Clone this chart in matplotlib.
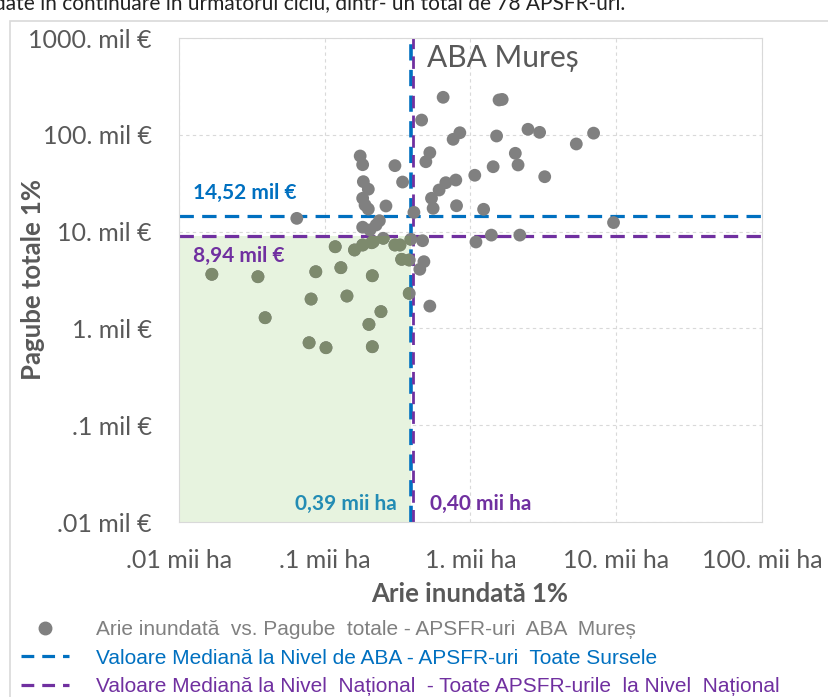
import matplotlib
matplotlib.use("Agg")
import matplotlib.pyplot as plt
from matplotlib.patches import Rectangle
from matplotlib.lines import Line2D

# Arie inundata 1% (mii ha) si Pagube totale 1% (mil €) - APSFR-uri ABA Mures
arie = [0.649, 1.57, 1.65, 0.462, 0.845, 0.760, 1.51, 2.48, 2.98, 6.99,
        5.32, 0.526, 0.494, 2.03, 2.12, 1.43, 1.07, 3.23, 0.793, 0.677,
        0.609, 0.342, 0.540, 0.554, 0.802, 1.23, 0.409, 9.58, 1.39, 2.18,
        1.09, 0.469, 0.390, 0.479, 0.449, 0.526, 0.380, 0.380,
        0.175, 0.182, 0.303, 0.184, 0.199, 0.182, 0.189, 0.199, 0.263, 0.0643,
        0.237, 0.225, 0.182, 0.204, 0.252, 0.215, 0.118, 0.160, 0.182, 0.210,
        0.303, 0.328, 0.337, 0.0168, 0.0348, 0.0868, 0.129, 0.212, 0.0806, 0.142,
        0.0390, 0.243, 0.201, 0.0781, 0.102, 0.212]
pagube = [244, 229, 232, 142, 105, 89.8, 97.2, 114, 106, 104,
          80.4, 65.3, 52.7, 64.4, 48.8, 46.8, 38.2, 36.9, 34.1, 32.0,
          26.9, 32.5, 22.1, 17.4, 18.5, 17.0, 15.8, 12.4, 9.2, 9.2,
          7.81, 8.05, 8.32, 4.89, 4.08, 1.70, 5.09, 2.30,
          60.4, 49.1, 48.0, 32.8, 27.4, 22.1, 18.8, 17.1, 18.4, 13.7,
          12.96, 11.7, 11.1, 10.4, 8.53, 7.87, 6.98, 6.46, 7.27, 7.68,
          7.27, 7.27, 5.17, 3.62, 3.42, 3.85, 4.24, 3.50, 2.01, 2.16,
          1.29, 1.49, 1.10, 0.711, 0.632, 0.647]

median_aba_x = 0.39
median_nat_x = 0.40
median_aba_y = 14.52
median_nat_y = 8.94

xticks = [0.01, 0.1, 1, 10, 100]
xticklabels = [".01 mii ha", ".1 mii ha", "1. mii ha", "10. mii ha", "100. mii ha"]
yticks = [0.01, 0.1, 1, 10, 100, 1000]
yticklabels = [".01 mil €", ".1 mil €", "1. mil €", "10. mil €", "100. mil €", "1000. mil €"]

BLUE = "#0070C0"
PURPLE = "#7030A0"
GREY = "#808080"
TXT = "#595959"

plt.rcParams["font.family"] = ["Lato", "DejaVu Sans"]

fig = plt.figure(figsize=(8.29, 6.97), dpi=100)
ax = fig.add_axes([179 / 829, 1 - 522 / 697, 583 / 829, 484 / 697])
ax.set_xscale("log")
ax.set_yscale("log")
ax.set_xlim(0.01, 100)
ax.set_ylim(0.01, 1000)

# outer chart border and the cropped caption line above it
fig.patches.append(Rectangle((10 / 829, -0.1), 1.2, 1.1 - 21 / 697, transform=fig.transFigure,
                             fill=False, edgecolor="#d9d9d9", lw=1.2))
fig.text(625 / 829, 1 - 9 / 697, "validate în continuare în următorul ciclu, dintr- un total de 78 APSFR-uri.",
         ha="right", va="baseline", fontsize=15, color="#222222")

# green zone below both medians
green = Rectangle((0.01, 0.01), median_aba_x - 0.01, median_nat_y - 0.01,
                  facecolor="#e7f3df", edgecolor="none", zorder=1)
ax.add_patch(green)

dash = (0, (4.5, 2.6))
ax.axhline(median_aba_y, color=BLUE, lw=2.3, ls=dash, zorder=2)
ax.axhline(median_nat_y, color=PURPLE, lw=2.3, ls=dash, zorder=2)
ax.axvline(median_aba_x, color=BLUE, lw=2.6, ls=dash, zorder=2)
ax.axvline(median_nat_x, color=PURPLE, lw=2.0, ls=dash, zorder=2)

ax.scatter(arie, pagube, s=85, color=GREY, edgecolors="none", zorder=3)
tinted = ax.scatter(arie, pagube, s=85, color="#7d8a6d", edgecolors="none", zorder=4)
tinted.set_clip_path(green)

ax.text(0.0125, 25, "14,52 mil €", color=BLUE, fontsize=15, fontweight="bold", va="center")
ax.text(0.0125, 5.6, "8,94 mil €", color=PURPLE, fontsize=15, fontweight="bold", va="center")
ax.text(0.313, 0.0153, "0,39 mii ha", color="#238cb4", fontsize=15, fontweight="bold",
        va="center", ha="right")
ax.text(0.526, 0.0153, "0,40 mii ha", color=PURPLE, fontsize=15, fontweight="bold", va="center")
ax.text(0.50, 621, "ABA Mureș", color="#595959", fontsize=21.5, va="center")

ax.set_xticks(xticks)
ax.set_xticklabels(xticklabels)
ax.set_yticks(yticks)
ax.set_yticklabels(yticklabels)
ax.minorticks_off()
ax.tick_params(length=0, labelsize=18, labelcolor=TXT)
ax.tick_params(axis="x", pad=19.5)
ax.tick_params(axis="y", pad=19.5)
ax.grid(True, color="#d9d9d9", ls=(0, (3, 3)), lw=0.8)
ax.set_axisbelow(True)
for s in ax.spines.values():
    s.set_color("#d9d9d9")

ax.set_xlabel("Arie inundată 1%", fontsize=18.5, fontweight="bold", color=TXT)
ax.xaxis.set_label_coords((470 - 179) / 583, -(594 - 522) / 484)
ax.xaxis.label.set_va("center")
ax.set_ylabel("Pagube totale 1%", fontsize=18.5, fontweight="bold", color=TXT)
ax.yaxis.set_label_coords((33 - 179) / 583, (522 - 280) / 484)
ax.yaxis.label.set_va("center")

handles = [
    Line2D([], [], ls="none", marker="o", color=GREY, markersize=9),
    Line2D([], [], color=BLUE, lw=2.3, ls=(0, (4, 2.5))),
    Line2D([], [], color=PURPLE, lw=2.3, ls=(0, (4, 2.5))),
]
labels = [
    "Arie inundată  vs. Pagube  totale - APSFR-uri  ABA  Mureș",
    "Valoare Mediană la Nivel de ABA - APSFR-uri  Toate Sursele",
    "Valoare Mediană la Nivel  Național  - Toate APSFR-urile  la Nivel  Național",
]
fig.legend(handles, labels, loc="upper left", bbox_to_anchor=(13 / 829, 1 - 612 / 697),
           frameon=False, labelcolor=[GREY, BLUE, PURPLE],
           prop={"family": ["Liberation Sans Narrow", "Liberation Sans", "DejaVu Sans"], "size": 15},
           handlelength=2.3, handletextpad=1.3, labelspacing=0.45, borderaxespad=0)

fig.savefig("out.png", dpi=100)
